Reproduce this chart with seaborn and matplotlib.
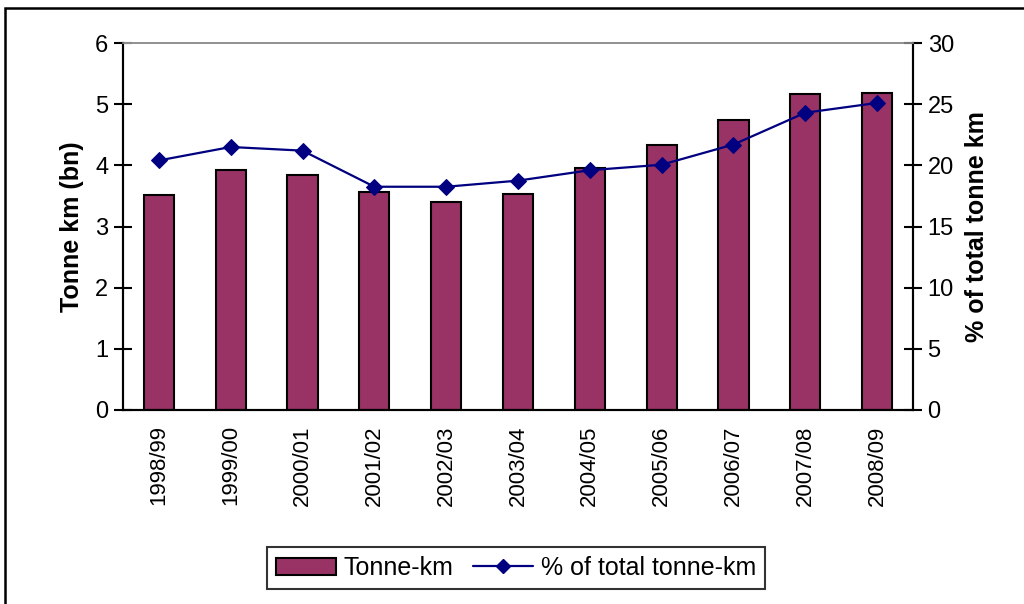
import numpy as np
import pandas as pd
import matplotlib
matplotlib.use("Agg")
import matplotlib.pyplot as plt
from matplotlib.patches import Rectangle, Patch
from matplotlib.lines import Line2D
import seaborn as sns

years = ["1998/99", "1999/00", "2000/01", "2001/02", "2002/03", "2003/04",
         "2004/05", "2005/06", "2006/07", "2007/08", "2008/09"]
tonne_km = [3.52, 3.92, 3.85, 3.56, 3.40, 3.53, 3.95, 4.34, 4.74, 5.16, 5.19]
pct_total = [20.4, 21.5, 21.2, 18.25, 18.25, 18.75, 19.6, 20.05, 21.7, 24.3, 25.1]

bar_color = "#993366"
line_color = "#000080"

sns.set_style("white")
plt.rcParams["font.family"] = ["Liberation Sans", "DejaVu Sans"]
plt.rcParams.update({"text.color": "black", "axes.labelcolor": "black",
                     "xtick.color": "black", "ytick.color": "black"})

df = pd.DataFrame({"year": years, "tkm": tonne_km, "pct": pct_total})

fig = plt.figure(figsize=(10.24, 6.04), dpi=100)
ax = fig.add_axes([123 / 1024, 1 - 410 / 604, (913 - 123) / 1024, (410 - 43) / 604])

sns.barplot(data=df, x="year", y="tkm", ax=ax, color=bar_color,
            edgecolor="black", linewidth=1.5, width=0.42, saturation=1)

ax2 = ax.twinx()
sns.lineplot(x=np.arange(len(years)), y=pct_total, ax=ax2, color=line_color,
             marker="D", markersize=8, markeredgecolor=line_color, linewidth=1.6)

ax.set_xlim(-0.5, len(years) - 0.5)
ax.set_ylim(0, 6)
ax2.set_ylim(0, 30)
ax.set_yticks(range(0, 7))
ax2.set_yticks(range(0, 31, 5))

# category-boundary ticks on the x axis
ax.set_xticks(np.arange(len(years)))
ax.set_xticklabels(years, rotation=90, fontsize=16)
ax.set_xticks(np.arange(-0.5, len(years)), minor=True)
ax.tick_params(axis="x", which="major", length=0, pad=11, labelcolor="black")
ax.tick_params(axis="x", which="minor", length=8, width=1.5, color="black", direction="out")
ax.tick_params(axis="y", length=13, width=1.5, direction="inout", labelsize=17, pad=4,
               color="black", labelcolor="black")
ax2.tick_params(axis="y", length=13, width=1.5, direction="inout", labelsize=17, pad=4,
                color="black", labelcolor="black")

ax.set_xlabel("")
ax.set_ylabel("Tonne km (bn)", fontsize=18, fontweight="bold", labelpad=8, color="black")
ax2.set_ylabel("% of total tonne km", fontsize=18, fontweight="bold", labelpad=8, color="black")

for a in (ax, ax2):
    for side in ("left", "right", "bottom"):
        a.spines[side].set_color("black")
        a.spines[side].set_linewidth(1.5)
    a.spines["top"].set_color("#909090")
    a.spines["top"].set_linewidth(1.2)

handles = [Patch(facecolor=bar_color, edgecolor="black", linewidth=1.5),
           Line2D([0], [0], color=line_color, marker="D", markersize=7, linewidth=1.6)]
leg = fig.legend(handles, ["Tonne-km", "% of total tonne-km"], ncol=2,
                 loc="center", bbox_to_anchor=(516 / 1024, 1 - 568 / 604),
                 fontsize=18, frameon=True, fancybox=False, handlelength=2.4,
                 handletextpad=0.3, columnspacing=0.8, borderpad=0.35)
leg.get_frame().set_edgecolor("black")
leg.get_frame().set_linewidth(1.5)
for t in leg.get_texts():
    t.set_color("black")

# outer chart-area border
fig.patches.append(Rectangle((5 / 1024, -0.1), 1.2, (604 - 8) / 604 + 0.1,
                             transform=fig.transFigure, fill=False,
                             edgecolor="black", linewidth=1.8))

fig.savefig("out.png", dpi=100)
